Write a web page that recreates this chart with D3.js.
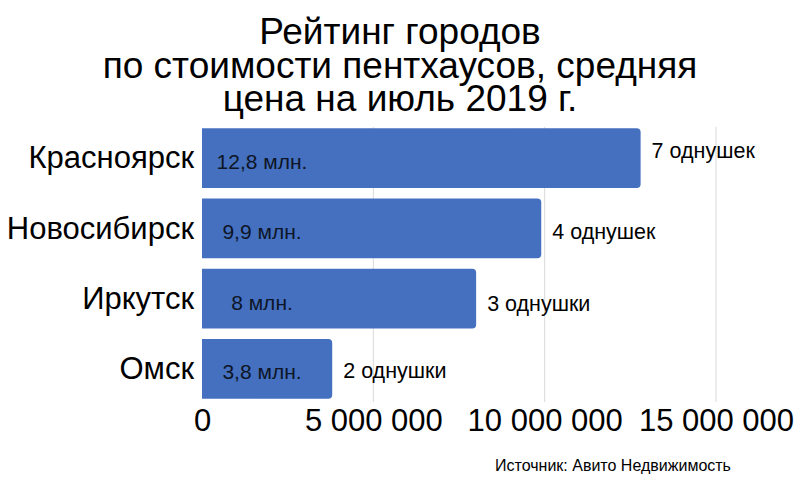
<!DOCTYPE html>
<html><head><meta charset="utf-8">
<script src="https://cdn.jsdelivr.net/npm/d3@7"></script>
<style>body{margin:0;background:#fff}svg{display:block}</style>
</head><body>
<svg id="chart" width="800" height="500"></svg>
<script>
const cities = ["Красноярск", "Новосибирск", "Иркутск", "Омск"];
const prices = [12800000, 9900000, 8000000, 3800000];
const priceLabels = ["12,8 млн.", "9,9 млн.", "8 млн.", "3,8 млн."];
const studioLabels = ["7 однушек", "4 однушек", "3 однушки", "2 однушки"];
const xTicks = [0, 5000000, 10000000, 15000000];
const titleLines = ["Рейтинг городов", "по стоимости пентхаусов, средняя", "цена на июль 2019 г."];
const source = "Источник: Авито Недвижимость";

const svg = d3.select("#chart");
const narrow = "'Liberation Sans Narrow', 'Arial Narrow', 'Liberation Sans', sans-serif";
const sans = "'Liberation Sans', Arial, sans-serif";

const x = d3.scaleLinear().domain([0, 15000000]).range([202, 716]);
const y = d3.scaleBand().domain(cities).range([123, 404]).paddingInner(0.15).paddingOuter(0.075);

// title
svg.append("g").selectAll("text").data(titleLines).join("text")
  .attr("x", 400).attr("y", (d, i) => 44 + i * 33.5)
  .attr("text-anchor", "middle")
  .attr("font-family", sans).attr("font-size", 37).attr("fill", "#000")
  .text(d => d);

// gridlines
svg.append("g").selectAll("line").data(xTicks.slice(1)).join("line")
  .attr("x1", d => x(d)).attr("x2", d => x(d))
  .attr("y1", 127).attr("y2", 402)
  .attr("stroke", "#d9d9d9").attr("stroke-width", 1);

// bars with rounded right corners
const r = 4;
svg.append("g").selectAll("path").data(cities).join("path")
  .attr("d", (c, i) => {
    const x0 = x(0), x1 = x(prices[i]), y0 = y(c), h = y.bandwidth();
    return `M${x0},${y0}H${x1 - r}Q${x1},${y0} ${x1},${y0 + r}V${y0 + h - r}Q${x1},${y0 + h} ${x1 - r},${y0 + h}H${x0}Z`;
  })
  .attr("fill", "#4470bf");

// inner value labels
svg.append("g").selectAll("text").data(cities).join("text")
  .attr("x", 262)
  .attr("y", (c, i) => y(c) + y.bandwidth() / 2 + (i === 2 ? 6 : 5))
  .attr("dominant-baseline", "middle")
  .attr("text-anchor", "middle")
  .attr("font-family", sans).attr("font-size", 21).attr("fill", "#0d1526")
  .text((c, i) => priceLabels[i]);

// outer labels
svg.append("g").selectAll("text").data(cities).join("text")
  .attr("x", (c, i) => x(prices[i]) + 11)
  .attr("y", (c, i) => y(c) + y.bandwidth() / 2 + [-6, 5, 7, 3][i])
  .attr("dominant-baseline", "middle")
  .attr("font-family", sans).attr("font-size", 21.5).attr("fill", "#000")
  .text((c, i) => studioLabels[i]);

// y axis labels
svg.append("g").selectAll("text").data(cities).join("text")
  .attr("x", 194)
  .attr("y", c => y(c) + y.bandwidth() / 2 + 2)
  .attr("dominant-baseline", "middle")
  .attr("text-anchor", "end")
  .attr("font-family", sans).attr("font-size", 31).attr("fill", "#000")
  .text(c => c);

// x axis
const loc = d3.formatLocale({decimal: ",", thousands: " ", grouping: [3], currency: ["", ""]});
const fmt = loc.format(",d");
const xAxis = svg.append("g").attr("transform", "translate(0,400)")
  .call(d3.axisBottom(x).tickValues(xTicks).tickFormat(fmt).tickSize(0).tickPadding(8));
xAxis.select(".domain").remove();
xAxis.selectAll("text").attr("font-family", sans).attr("font-size", 31).attr("fill", "#000")
  .attr("dy", "0.75em");

// source
svg.append("text").attr("x", 613).attr("y", 471).attr("text-anchor", "middle")
  .attr("font-family", narrow).attr("font-size", 16).attr("fill", "#000")
  .text(source);
</script>
</body></html>
